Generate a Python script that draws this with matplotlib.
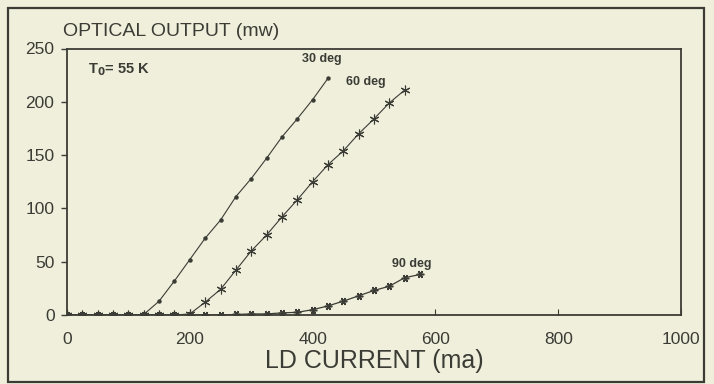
import matplotlib.pyplot as plt
from matplotlib.patches import Rectangle

# LD current (mA) and optical output (mW) for each mount angle
current_30 = [0, 25, 50, 75, 100, 125, 150, 175, 200, 225, 250, 275, 300, 325, 350, 375, 400, 425]
output_30 = [0, 0, 0, 0, 0, 0.5, 13, 32, 52, 72, 89, 111, 128, 147, 167, 184, 202, 222]

current_60 = [0, 25, 50, 75, 100, 125, 150, 175, 200, 225, 250, 275, 300, 325, 350, 375,
              400, 425, 450, 475, 500, 525, 550]
output_60 = [0, 0, 0, 0, 0, 0, 0, 0, 1, 12, 24, 42, 60, 75, 92, 108,
             125, 141, 154, 170, 184, 199, 211]

current_90 = [0, 25, 50, 75, 100, 125, 150, 175, 200, 225, 250, 275, 300, 325, 350, 375,
              400, 425, 450, 475, 500, 525, 550, 575]
output_90 = [0, 0, 0, 0, 0, 0, 0, 0, 0, 0, 0, 0.5, 1, 1, 2, 2.5,
             5, 8.5, 13, 18, 23, 27, 35, 38]

x_ticks = [0, 200, 400, 600, 800, 1000]
y_ticks = [0, 50, 100, 150, 200, 250]

bg = '#efefdb'
ink = '#3c3c36'

plt.rcParams['font.family'] = ['Liberation Sans', 'DejaVu Sans']

fig = plt.figure(figsize=(7.14, 3.84), dpi=100, facecolor=bg)
ax = fig.add_axes([67 / 714, 69 / 384, 614 / 714, 266.5 / 384])
ax.set_facecolor(bg)

# outer frame round the whole figure
fig.patches.append(Rectangle((8 / 714, 2 / 384), 696 / 714, 374 / 384,
                             transform=fig.transFigure, fill=False,
                             edgecolor=ink, linewidth=1.6))

ax.plot(current_30, output_30, color=ink, lw=0.8, marker='o', ms=2.2,
        mfc=ink, mec=ink)
ax.plot(current_60, output_60, color=ink, lw=0.8, marker=(6, 2, 0), ms=7,
        mec=ink, mew=0.8)
ax.plot(current_90, output_90, color=ink, lw=0.9, marker=(6, 2, 90), ms=5.5,
        mec=ink, mew=1.1)

ax.text(415, 240, '30 deg', fontsize=9, fontweight='bold', color=ink,
        ha='center', va='center')
ax.text(487, 218.5, '60 deg', fontsize=9, fontweight='bold', color=ink,
        ha='center', va='center')
ax.text(562, 48, '90 deg', fontsize=9, fontweight='bold', color=ink,
        ha='center', va='center')
ax.text(34, 230, r'T$_\mathbf{0}$= 55 K', fontsize=10.5, fontweight='bold',
        color=ink, ha='left', va='center')

ax.set_xlim(0, 1000)
ax.set_ylim(0, 250)
ax.set_xticks(x_ticks)
ax.set_yticks(y_ticks)
ax.tick_params(axis='x', direction='in', length=4, width=0.8, pad=12,
               labelsize=12.5, colors=ink)
ax.tick_params(axis='y', direction='out', length=4, width=1.0, pad=5,
               labelsize=12.5, colors=ink)

for sp in ax.spines.values():
    sp.set_color(ink)
    sp.set_linewidth(1.3)

ax.set_xlabel('LD CURRENT (ma)', fontsize=18, color=ink, labelpad=2)
fig.text(63 / 714, 1 - 31.5 / 384, 'OPTICAL OUTPUT (mw)', fontsize=14,
         color=ink, ha='left', va='center')

fig.savefig('out.png', dpi=100, facecolor=bg)
